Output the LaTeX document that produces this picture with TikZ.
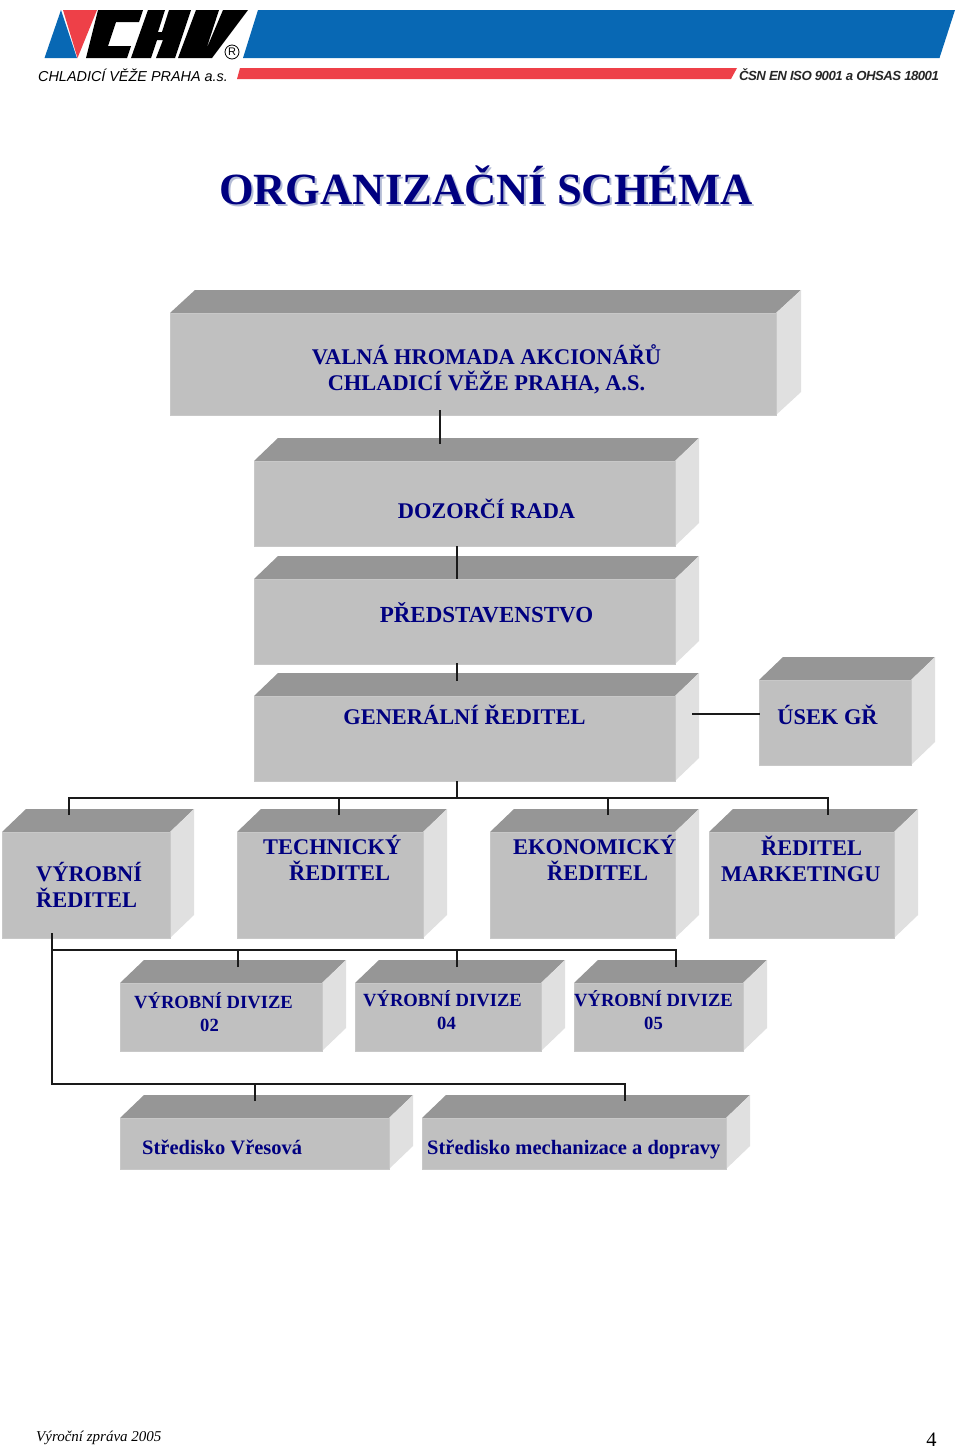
\documentclass[tikz,border=0pt]{standalone}
\usepackage{fontspec}
\setmainfont{Liberation Serif}
\newfontfamily\logofont{Liberation Sans}
\definecolor{frontc}{HTML}{C0C0C0}
\definecolor{edgec}{HTML}{C8C8C8}
\definecolor{topc}{HTML}{969696}
\definecolor{sidec}{HTML}{E0E0E0}
\definecolor{navyc}{HTML}{000080}
\definecolor{shadowc}{HTML}{B4BCD6}
\definecolor{logoblue}{HTML}{0868B4}
\definecolor{logored}{HTML}{EE4048}
\definecolor{linec}{HTML}{1A1A1A}
\tikzset{
  x=1pt,y=-1pt,
  frontface/.style={fill=frontc,draw=edgec,line width=.6pt},
  topface/.style={fill=topc},
  sideface/.style={fill=sidec},
  boxlabel/.style={text=navyc,font=\bfseries\fontsize{22.4}{26}\selectfont,inner sep=0pt,align=left,anchor=north west},
  smalllabel/.style={text=navyc,font=\bfseries\fontsize{18.6}{23}\selectfont,inner sep=0pt,align=left,anchor=north west},
  stredlabel/.style={text=navyc,font=\bfseries\fontsize{20.5}{24}\selectfont,inner sep=0pt,align=left,anchor=north west},
  conn/.style={draw=linec,line width=1.1pt},
}
% \cube{name}{x1}{y1}{x2}{y2}{depth}
\newcommand{\cube}[6]{%
  \fill[topface] (#2,#3) -- (#2+#6,#3-23) -- (#4+#6,#3-23) -- (#4,#3) -- cycle;
  \fill[sideface] (#4,#3) -- (#4+#6,#3-23) -- (#4+#6,#5-23) -- (#4,#5) -- cycle;
  \path[frontface] (#2,#3) rectangle (#4,#5);
  \coordinate (#1) at ({(#2+#4)/2},{(#3+#5)/2});
}
\begin{document}
\begin{tikzpicture}
\useasboundingbox (0,0) rectangle (960,1449);
\fill[white] (0,0) rectangle (960,1449);

% logo
\fill[logoblue] (61,10) -- (44.5,58) -- (77,58) -- cycle;
\fill[logored] (63,10) -- (97,10) -- (77.5,58) -- cycle;
\fill[black] (98,10) -- (143,10) -- (139,22) -- (116,22) -- (108,46) -- (131,46) -- (127,58) -- (86,58) -- cycle;
\fill[black] (148,10) -- (165,10) -- (158,32) -- (162,32) -- (169,10) -- (191,10) -- (175,58) -- (156,58) -- (163,40) -- (157,40) -- (151,58) -- (131,58) -- cycle;
\fill[black] (196,10) -- (219,10) -- (206,50) -- (223,10) -- (248,10) -- (212,58) -- (178,58) -- cycle;
\node[inner sep=0pt,font=\logofont\fontsize{11}{11}\selectfont] (reg) at (232,52) {R};
\draw[line width=.8pt] (reg) circle (7);
\fill[logoblue] (258,10) -- (955,10) -- (939.5,58) -- (243,58) -- cycle;
\fill[logored] (240,68) -- (737,68) -- (731,79) -- (237,79) -- cycle;
\node[inner sep=0pt,anchor=west,font=\logofont\itshape\fontsize{14.4}{14}\selectfont,text=black] (logotext) at (38,75) {CHLADICÍ VĚŽE PRAHA a.s.};
\node[inner sep=0pt,anchor=west,font=\logofont\bfseries\itshape\fontsize{13.2}{14}\selectfont,text=black!85] (isotext) at (739,74.5) {\addfontfeature{LetterSpace=-4}ČSN EN ISO 9001 a  OHSAS 18001};

% title
\node[text=shadowc,font=\bfseries\fontsize{44.6}{46}\selectfont,inner sep=0pt] (titleshadow) at (488,187.5) {ORGANIZAČNÍ SCHÉMA};
\node[text=navyc,font=\bfseries\fontsize{44.6}{46}\selectfont,inner sep=0pt] (title) at (486,185.5) {ORGANIZAČNÍ SCHÉMA};

% boxes
\cube{valna}{170}{313}{776}{415}{25}
\cube{dozor}{254}{461}{675}{546}{24}
\cube{pred}{254}{579}{675}{664}{24}
\cube{gen}{254}{696}{675}{781}{24}
\cube{usek}{759}{680}{911}{765}{24}
\cube{vyr}{2}{832}{170}{938}{24}
\cube{tech}{237}{832}{423}{938}{24}
\cube{ekon}{490}{832}{675}{938}{24}
\cube{mark}{709}{832}{894}{938}{24}
\cube{divb}{120}{983}{322}{1051}{24}
\cube{divd}{355}{983}{541}{1051}{24}
\cube{dive}{574}{983}{743}{1051}{24}
\cube{vres}{120}{1118}{389}{1169}{24}
\cube{mech}{422}{1118}{726}{1169}{24}

% connector points
\coordinate (a1) at (440,410);
\coordinate (a2) at (440,444);
\coordinate (b1) at (457,546);
\coordinate (b2) at (457,579);
\coordinate (c1) at (457,663);
\coordinate (c2) at (457,681);
\coordinate (d1) at (692,714);
\coordinate (d2) at (760,714);
\coordinate (e1) at (457,781);
\coordinate (e2) at (457,798);
\coordinate (f0) at (69,798);
\coordinate (f1) at (69,815);
\coordinate (f2) at (339,815);
\coordinate (f3) at (608,815);
\coordinate (f4) at (828,815);
\coordinate (f5) at (828,798);
\coordinate (g0) at (52,933);
\coordinate (g1) at (52,950);
\coordinate (g2) at (676,950);
\coordinate (g3) at (676,967);
\coordinate (g4) at (238,967);
\coordinate (g5) at (457,967);
\coordinate (h1) at (52,1084);
\coordinate (h2) at (625,1084);
\coordinate (h3) at (625,1101);
\coordinate (h4) at (255,1101);

\draw[conn] (a1) -- (a2);
\draw[conn] (b1) -- (b2);
\draw[conn] (c1) -- (c2);
\draw[conn] (d1) -- (d2);
\draw[conn] (e1) -- (e2);
\draw[conn] (f1) -- (f0) -- (f5) -- (f4);
\draw[conn] (f2) -- (f2 |- f0);
\draw[conn] (f3) -- (f3 |- f0);
\draw[conn] (g0) -- (h1) -- (h2) -- (h3);
\draw[conn] (g1) -- (g2) -- (g3);
\draw[conn] (g4) -- (g4 |- g1);
\draw[conn] (g5) -- (g5 |- g1);
\draw[conn] (h4) -- (h4 |- h1);

% labels
\node[boxlabel,anchor=north,align=center] (lvalna) at (486.5,344) {VALNÁ HROMADA AKCIONÁŘŮ\\CHLADICÍ VĚŽE PRAHA, A.S.};
\node[boxlabel,anchor=north] (ldozor) at (486.5,499) {DOZORČÍ RADA};
\node[boxlabel,anchor=north,font=\bfseries\fontsize{23}{26}\selectfont] (lpred) at (486.5,602) {PŘEDSTAVENSTVO};
\node[boxlabel,anchor=north] (lgen) at (464.5,705) {GENERÁLNÍ ŘEDITEL};
\node[boxlabel,anchor=north] (lusek) at (827.5,705) {ÚSEK GŘ};
\node[boxlabel] (lvyr) at (36,862) {VÝROBNÍ\\ŘEDITEL};
\node[boxlabel] (ltech) at (263,835.5) {TECHNICKÝ\\\hspace*{26pt}ŘEDITEL};
\node[boxlabel] (lekon) at (513,835.5) {EKONOMICKÝ\\\hspace*{34pt}ŘEDITEL};
\node[boxlabel] (lmark) at (721,835.5) {\hspace*{40pt}ŘEDITEL\\MARKETINGU};
\node[smalllabel] (ldivb) at (134,992) {VÝROBNÍ DIVIZE\\\hspace*{66pt}02};
\node[smalllabel] (ldivd) at (363,990) {VÝROBNÍ DIVIZE\\\hspace*{74pt}04};
\node[smalllabel] (ldive) at (574,990) {VÝROBNÍ DIVIZE\\\hspace*{70pt}05};
\node[stredlabel] (lvres) at (142,1140) {Středisko Vřesová};
\node[stredlabel] (lmech) at (427,1140) {Středisko mechanizace a dopravy};

% footer
\node[inner sep=0pt,anchor=west,font=\itshape\fontsize{15}{15}\selectfont] (foot) at (36,1438) {Výroční zpráva 2005};
\node[inner sep=0pt,font=\fontsize{20.5}{21}\selectfont] (pagenum) at (931.5,1440) {4};
\end{tikzpicture}
\end{document}
